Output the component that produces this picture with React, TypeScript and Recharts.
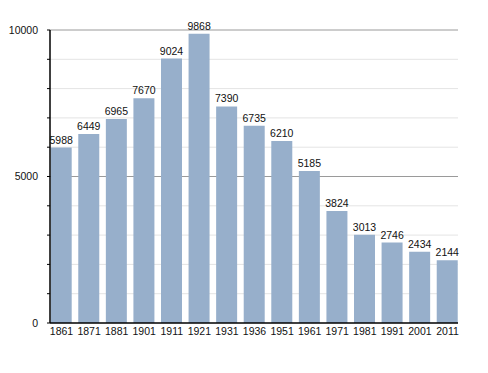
import React from "react";
import { BarChart, Bar, XAxis, YAxis, CartesianGrid, LabelList } from "recharts";

const years = ["1861", "1871", "1881", "1901", "1911", "1921", "1931", "1936", "1951", "1961", "1971", "1981", "1991", "2001", "2011"];
const population = [5988, 6449, 6965, 7670, 9024, 9868, 7390, 6735, 6210, 5185, 3824, 3013, 2746, 2434, 2144];
const yTicks = [0, 1000, 2000, 3000, 4000, 5000, 6000, 7000, 8000, 9000, 10000];
const yLabelled = [0, 5000, 10000];
const minorGrid = [1000, 2000, 3000, 4000, 6000, 7000, 8000, 9000];
const majorGrid = [5000, 10000];

const data = years.map((y, i) => ({ year: y, value: population[i] }));

const font = "'Liberation Sans', Arial, Helvetica, sans-serif";

export default function App() {
  return (
    <div style={{ width: 472, height: 357 }}>
      <BarChart
        width={472}
        height={357}
        data={data}
        margin={{ top: 22, right: 22, bottom: 0, left: 0 }}
        barSize={21}
      >
        <CartesianGrid vertical={false} horizontalValues={minorGrid} stroke="#e4e4e4" />
        <CartesianGrid vertical={false} horizontalValues={majorGrid} stroke="#9a9a9a" />
        <XAxis
          dataKey="year"
          axisLine={{ stroke: "#000", strokeWidth: 1.5 }}
          tickLine={false}
          tickSize={3}
          tickMargin={2}
          height={42}
          interval={0}
          padding={{ left: -2.3, right: -3.3 }}
          tick={{ fill: "#111", fontSize: 10.5, fontFamily: font }}
        />
        <YAxis
          domain={[0, 10000]}
          ticks={yTicks}
          interval={0}
          width={42}
          axisLine={{ stroke: "#000", strokeWidth: 1.5 }}
          tickLine={{ stroke: "#000" }}
          tickSize={3}
          tickMargin={9}
          tickFormatter={(v: number) => (yLabelled.includes(v) ? String(v) : "")}
          tick={{ fill: "#111", fontSize: 10.5, fontFamily: font }}
        />
        <Bar dataKey="value" fill="#97afcb" isAnimationActive={false}>
          <LabelList dataKey="value" position="top" offset={4} fill="#111" fontSize={10.5} fontFamily={font} />
        </Bar>
      </BarChart>
    </div>
  );
}
